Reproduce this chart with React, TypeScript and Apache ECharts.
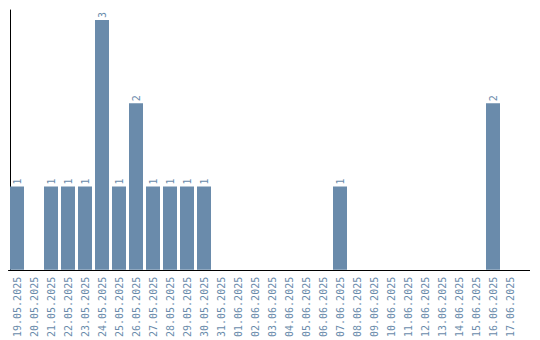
import React, { useEffect, useRef } from "react";
import * as echarts from "echarts";

const categories = [
  "19.05.2025", "20.05.2025", "21.05.2025", "22.05.2025", "23.05.2025",
  "24.05.2025", "25.05.2025", "26.05.2025", "27.05.2025", "28.05.2025",
  "29.05.2025", "30.05.2025", "31.05.2025", "01.06.2025", "02.06.2025",
  "03.06.2025", "04.06.2025", "05.06.2025", "06.06.2025", "07.06.2025",
  "08.06.2025", "09.06.2025", "10.06.2025", "11.06.2025", "12.06.2025",
  "13.06.2025", "14.06.2025", "15.06.2025", "16.06.2025", "17.06.2025",
];

const counts = [
  1, 0, 1, 1, 1, 3, 1, 2, 1, 1, 1, 1, 0, 0, 0, 0, 0, 0, 0, 1,
  0, 0, 0, 0, 0, 0, 0, 0, 2, 0,
];

const BAR_COLOR = "#6a8bab";
const TEXT_COLOR = "#6a8bab";
const FONT = "DejaVu Sans Mono";

export default function App() {
  const ref = useRef<HTMLDivElement>(null);
  useEffect(() => {
    if (!ref.current) return;
    const chart = echarts.init(ref.current, null, { renderer: "svg" });
    chart.setOption({
      animation: false,
      grid: { left: 8.5, top: 10, width: 510, height: 260, containLabel: false },
      xAxis: {
        type: "category",
        data: categories,
        axisLine: { show: true, lineStyle: { color: "#000", width: 1 } },
        axisTick: { show: false },
        axisLabel: {
          rotate: 90,
          interval: 0,
          margin: 7,
          color: TEXT_COLOR,
          fontFamily: FONT,
          fontSize: 10,
        },
        splitLine: { show: false },
      },
      yAxis: {
        type: "value",
        min: 0,
        max: 3.12,
        offset: -1.5,
        axisLine: { show: true, lineStyle: { color: "#000", width: 1 } },
        axisTick: { show: false },
        axisLabel: { show: false },
        splitLine: { show: false },
      },
      graphic: [
        {
          type: "line",
          shape: { x1: 518, y1: 270.5, x2: 530, y2: 270.5 },
          style: { stroke: "#000", lineWidth: 1 },
        },
      ],
      series: [
        {
          type: "bar",
          data: counts.map((v) => (v === 0 ? null : v)),
          barWidth: 14,
          itemStyle: { color: BAR_COLOR },
          label: {
            show: true,
            position: "top",
            rotate: 90,
            align: "left",
            verticalAlign: "middle",
            distance: 2,
            color: TEXT_COLOR,
            fontFamily: FONT,
            fontSize: 10,
          },
        },
      ],
    });
    return () => chart.dispose();
  }, []);
  return (
    <div
      ref={ref}
      style={{ position: "fixed", left: 0, top: 0, width: 540, height: 340, background: "#fff" }}
    />
  );
}
